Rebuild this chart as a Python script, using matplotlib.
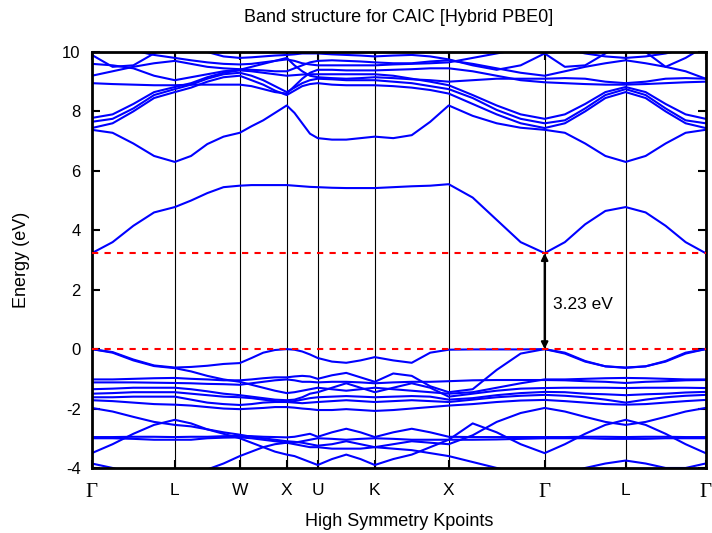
import matplotlib
matplotlib.use('Agg')
import matplotlib.pyplot as plt

plt.rcParams['font.family'] = ['Liberation Sans', 'DejaVu Sans']
plt.rcParams['axes.unicode_minus'] = False

# High symmetry points along the path
kpoint_labels = ['Γ', 'L', 'W', 'X', 'U', 'K', 'X', 'Γ', 'L', 'Γ']
kpoint_pos = [0.0, 0.883, 1.574, 2.074, 2.404, 3.011, 3.798, 4.819, 5.681, 6.532]

# energies sampled at each symmetry point and 3 points between each pair
vb1 = [0.0, -0.1, -0.35, -0.55, -0.62, -0.6, -0.56, -0.5, -0.47, -0.3, -0.12, -0.03, 0.0,
       -0.02, -0.08, -0.18, -0.3, -0.42, -0.46, -0.38, -0.27, -0.38, -0.46, -0.12, -0.02,
       -0.01, -0.01, -0.01, 0.0, -0.15, -0.42, -0.58, -0.63, -0.58, -0.42, -0.15, 0.0]
vb2 = [0.0, -0.12, -0.38, -0.57, -0.64, -0.75, -0.9, -1.02, -1.1, -1.2, -1.3, -1.4, -1.48,
       -1.45, -1.4, -1.35, -1.3, -1.35, -1.4, -1.35, -1.3, -1.35, -1.4, -1.45, -1.5,
       -1.45, -1.3, -1.15, -1.02, -1.02, -1.0, -0.98, -0.97, -0.98, -1.0, -1.02, -1.02]
vb3 = [-1.02, -1.02, -1.0, -0.98, -0.97, -1.0, -1.02, -1.05, -1.05, -1.02, -0.98, -0.95, -0.95,
       -0.92, -0.9, -0.92, -1.0, -0.88, -0.8, -0.95, -1.1, -0.82, -0.9, -1.25, -1.45,
       -1.35, -0.7, -0.15, 0.0, -0.12, -0.4, -0.58, -0.62, -0.58, -0.4, -0.12, 0.0]
vb4 = [-1.12, -1.12, -1.12, -1.13, -1.14, -1.15, -1.17, -1.18, -1.2, -1.15, -1.1, -1.05, -1.02,
       -1.05, -1.1, -1.1, -1.12, -1.1, -1.1, -1.12, -1.15, -1.12, -1.1, -1.1, -1.08,
       -1.05, -1.04, -1.04, -1.04, -1.05, -1.08, -1.1, -1.14, -1.1, -1.08, -1.05, -1.04]
vb5 = [-1.35, -1.33, -1.3, -1.3, -1.3, -1.35, -1.42, -1.5, -1.55, -1.6, -1.65, -1.7, -1.72,
       -1.7, -1.62, -1.5, -1.45, -1.3, -1.15, -1.3, -1.45, -1.3, -1.15, -1.3, -1.6,
       -1.5, -1.4, -1.33, -1.31, -1.3, -1.3, -1.3, -1.31, -1.3, -1.3, -1.3, -1.31]
vb6 = [-1.5, -1.48, -1.45, -1.45, -1.45, -1.5, -1.55, -1.6, -1.62, -1.65, -1.7, -1.75, -1.78,
       -1.75, -1.7, -1.65, -1.62, -1.6, -1.58, -1.6, -1.62, -1.6, -1.58, -1.6, -1.7,
       -1.65, -1.55, -1.48, -1.44, -1.45, -1.5, -1.52, -1.55, -1.52, -1.5, -1.46, -1.44]
vb7 = [-1.62, -1.62, -1.6, -1.6, -1.6, -1.7, -1.8, -1.85, -1.88, -1.85, -1.8, -1.78, -1.78,
       -1.8, -1.82, -1.8, -1.78, -1.75, -1.72, -1.75, -1.78, -1.75, -1.72, -1.75, -1.78,
       -1.7, -1.62, -1.57, -1.54, -1.57, -1.62, -1.7, -1.8, -1.7, -1.62, -1.57, -1.54]
vb8 = [-1.72, -1.75, -1.8, -1.85, -1.87, -1.9, -1.95, -2.0, -2.02, -2.0, -1.98, -1.95, -1.95,
       -1.97, -2.0, -2.02, -2.05, -2.05, -2.02, -2.05, -2.08, -2.05, -2.0, -1.95, -1.9,
       -1.85, -1.78, -1.73, -1.71, -1.75, -1.8, -1.85, -1.87, -1.85, -1.8, -1.75, -1.71]
vb9 = [-1.98, -2.1, -2.28, -2.45, -2.55, -2.6, -2.7, -2.8, -2.88, -2.95, -3.0, -3.05, -3.1,
       -3.12, -3.15, -3.2, -3.25, -3.2, -3.1, -3.2, -3.3, -3.2, -3.1, -3.15, -3.2,
       -2.9, -2.45, -2.15, -1.98, -2.1, -2.28, -2.45, -2.55, -2.45, -2.28, -2.1, -1.98]
vb10 = [-3.5, -3.2, -2.85, -2.55, -2.38, -2.5, -2.7, -2.85, -3.0, -3.15, -3.3, -3.45, -3.55,
        -3.6, -3.7, -3.8, -3.9, -3.7, -3.55, -3.7, -3.9, -3.7, -3.55, -3.3, -3.05,
        -2.5, -2.8, -3.2, -3.5, -3.2, -2.85, -2.55, -2.38, -2.55, -2.85, -3.2, -3.5]
vb11 = [-2.96, -2.96, -2.95, -2.95, -2.96, -2.95, -2.95, -2.93, -2.92, -2.93, -2.95, -2.96, -2.97,
        -2.95, -2.9, -2.85, -2.95, -2.8, -2.68, -2.8, -2.96, -2.8, -2.68, -2.8, -2.95,
        -2.96, -2.96, -2.96, -2.96, -2.96, -2.95, -2.95, -2.96, -2.95, -2.95, -2.96, -2.96]
vb12 = [-3.0, -3.0, -3.02, -3.05, -3.05, -3.05, -3.0, -2.98, -2.97, -3.0, -3.05, -3.1, -3.15,
        -3.15, -3.1, -3.05, -3.0, -3.02, -3.05, -3.02, -3.0, -3.02, -3.05, -3.05, -3.05,
        -3.05, -3.04, -3.02, -3.0, -3.0, -3.0, -3.02, -3.02, -3.02, -3.0, -3.0, -3.0]
vb13 = [-3.85, -4.0, -4.2, -4.3, -4.3, -4.2, -4.05, -3.85, -3.6, -3.45, -3.3, -3.2, -3.15,
        -3.2, -3.25, -3.3, -3.3, -3.35, -3.35, -3.35, -3.3, -3.35, -3.4, -3.5, -3.6,
        -3.8, -4.0, -4.2, -4.3, -4.2, -4.0, -3.85, -3.75, -3.85, -4.0, -4.0, -3.85]

cb1 = [3.23, 3.6, 4.15, 4.6, 4.78, 5.0, 5.25, 5.45, 5.5, 5.52, 5.52, 5.52, 5.52,
       5.5, 5.48, 5.46, 5.45, 5.43, 5.42, 5.42, 5.42, 5.45, 5.48, 5.5, 5.55,
       5.1, 4.35, 3.6, 3.23, 3.6, 4.2, 4.65, 4.78, 4.6, 4.15, 3.6, 3.23]
cb2 = [7.38, 7.28, 6.92, 6.5, 6.3, 6.5, 6.9, 7.15, 7.28, 7.5, 7.7, 7.95, 8.2,
       7.95, 7.6, 7.25, 7.1, 7.05, 7.05, 7.1, 7.15, 7.1, 7.2, 7.65, 8.2,
       7.85, 7.6, 7.45, 7.38, 7.28, 6.92, 6.5, 6.3, 6.5, 6.92, 7.28, 7.38]
cb3 = [7.44, 7.6, 8.0, 8.45, 8.65, 8.8, 9.0, 9.15, 9.2, 9.05, 8.9, 8.7, 8.55,
       8.7, 8.85, 8.92, 8.95, 8.9, 8.88, 8.88, 8.88, 8.85, 8.8, 8.72, 8.6,
       8.25, 7.9, 7.6, 7.44, 7.6, 8.0, 8.45, 8.65, 8.45, 8.0, 7.6, 7.44]
cb4 = [7.65, 7.75, 8.1, 8.55, 8.75, 8.9, 9.1, 9.25, 9.3, 9.2, 9.05, 8.85, 8.65,
       8.8, 8.95, 9.05, 9.1, 9.08, 9.05, 9.05, 9.05, 9.0, 8.95, 8.85, 8.75,
       8.45, 8.05, 7.75, 7.6, 7.7, 8.1, 8.55, 8.75, 8.55, 8.1, 7.7, 7.6]
cb5 = [7.78, 7.9, 8.25, 8.65, 8.82, 8.95, 9.15, 9.3, 9.38, 9.35, 9.3, 9.25, 9.2,
       9.22, 9.24, 9.25, 9.25, 9.25, 9.25, 9.25, 9.25, 9.2, 9.1, 9.0, 8.88,
       8.55, 8.2, 7.9, 7.75, 7.9, 8.25, 8.65, 8.82, 8.65, 8.25, 7.9, 7.75]
cb6 = [8.95, 8.92, 8.9, 8.88, 8.88, 8.9, 8.9, 8.9, 8.9, 8.85, 8.75, 8.65, 8.6,
       8.85, 9.1, 9.3, 9.4, 9.4, 9.38, 9.38, 9.38, 9.4, 9.42, 9.45, 9.45,
       9.35, 9.2, 9.05, 8.98, 8.95, 8.92, 8.9, 8.9, 8.92, 8.95, 8.98, 9.0]
cb7 = [9.2, 9.35, 9.5, 9.62, 9.7, 9.6, 9.5, 9.45, 9.42, 9.4, 9.38, 9.35, 9.35,
       9.45, 9.55, 9.65, 9.7, 9.72, 9.7, 9.68, 9.65, 9.62, 9.62, 9.68, 9.72,
       9.6, 9.45, 9.3, 9.2, 9.35, 9.5, 9.62, 9.72, 9.62, 9.5, 9.35, 9.1]
cb8 = [9.9, 9.5, 9.55, 9.95, 10.3, 10.2, 10.0, 9.85, 9.8, 9.82, 9.85, 9.88, 9.9,
       9.92, 9.95, 9.95, 9.95, 9.92, 9.9, 9.88, 9.85, 9.88, 9.9, 9.85, 9.75,
       9.55, 9.4, 9.55, 9.95, 9.5, 9.55, 9.95, 10.3, 10.0, 9.5, 9.8, 10.2]
cb9 = [10.4, 10.2, 10.05, 9.9, 9.8, 9.72, 9.65, 9.6, 9.58, 9.6, 9.65, 9.7, 9.75,
       9.7, 9.62, 9.58, 9.55, 9.55, 9.55, 9.55, 9.55, 9.58, 9.6, 9.62, 9.65,
       9.8, 9.95, 10.1, 10.3, 10.1, 9.95, 9.85, 9.8, 9.85, 9.95, 10.1, 10.3]
cb10 = [9.6, 9.55, 9.45, 9.2, 9.05, 9.15, 9.25, 9.35, 9.4, 9.5, 9.6, 9.7, 9.8,
        9.55, 9.35, 9.2, 9.15, 9.12, 9.1, 9.12, 9.15, 9.12, 9.08, 9.05, 9.0,
        9.05, 9.1, 9.1, 9.1, 9.12, 9.1, 9.0, 8.95, 9.0, 9.1, 9.12, 9.1]

bands = [vb1, vb2, vb3, vb4, vb5, vb6, vb7, vb8, vb9, vb10, vb11, vb12, vb13,
         cb1, cb2, cb3, cb4, cb5, cb6, cb7, cb8, cb9, cb10]

vbm = 0.0
cbm = 3.23
gap_label = '3.23 eV'

# k grid: each segment split in 4
kgrid = []
for i in range(len(kpoint_pos) - 1):
    a, b = kpoint_pos[i], kpoint_pos[i + 1]
    for j in range(4):
        kgrid.append(a + (b - a) * j / 4)
kgrid.append(kpoint_pos[-1])

fig = plt.figure(figsize=(7.12, 5.33), dpi=100)
ax = fig.add_axes([0.129, 0.122, 0.862, 0.7805])

for kp in kpoint_pos[1:-1]:
    ax.axvline(kp, color='black', lw=0.8, zorder=1)

for band in bands:
    ax.plot(kgrid, band, color='#0000ff', lw=1.5, zorder=2)

ax.axhline(vbm, color='red', lw=1.5, ls=(0, (3, 3)), zorder=3)
ax.axhline(cbm, color='red', lw=1.5, ls=(0, (3, 3)), zorder=3)

ax.annotate('', xy=(kpoint_pos[7], vbm), xytext=(kpoint_pos[7], cbm),
            arrowprops=dict(arrowstyle='<|-|>', color='black', lw=1.5,
                            mutation_scale=10, shrinkA=0, shrinkB=0), zorder=4)
ax.text(kpoint_pos[7] + 0.09, (vbm + cbm) / 2 - 0.13, gap_label, fontsize=12.5,
        va='center', ha='left')

ax.set_xlim(kpoint_pos[0], kpoint_pos[-1])
ax.set_ylim(-4, 10)
ax.set_yticks(range(-4, 11, 2))
ax.set_xticks(kpoint_pos)
ax.set_xticklabels(kpoint_labels, fontsize=12.5)
for lbl in ax.get_xticklabels():
    if lbl.get_text() == 'Γ':
        lbl.set_family(['Liberation Serif', 'DejaVu Serif'])
        lbl.set_fontsize(15)
ax.tick_params(axis='y', labelsize=12, direction='in', length=6, width=1.5,
               right=True, pad=8)
ax.tick_params(axis='x', direction='in', length=6, width=1.5, top=True, pad=11)
for sp in ax.spines.values():
    sp.set_linewidth(2)

fig.text(92 / 712 + 0.862 / 2, 1 - 18 / 533, 'Band structure for CAIC [Hybrid PBE0]',
         fontsize=13, ha='center', va='center')
fig.text(92 / 712 + 0.862 / 2, 1 - 522 / 533, 'High Symmetry Kpoints',
         fontsize=13, ha='center', va='center')
fig.text(22 / 712, 1 - 260 / 533, 'Energy (eV)', fontsize=13, ha='center',
         va='center', rotation=90)

plt.savefig('out.png', dpi=100)
